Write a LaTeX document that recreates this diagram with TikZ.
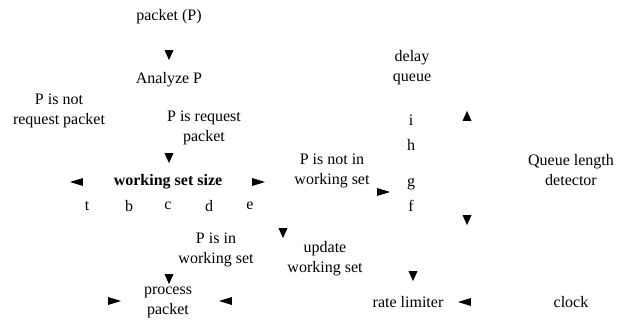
\documentclass[tikz,border=0pt]{standalone}
\usepackage{fontspec}
\setmainfont{Liberation Serif}
\usetikzlibrary{shapes.geometric}

\tikzset{
  lbl/.style={align=center, inner sep=1pt, font=\fontsize{16}{20}\selectfont},
  tip/.style={isosceles triangle, isosceles triangle stretches, fill=black,
    inner sep=0pt, minimum height=10pt, minimum width=9pt},
  tipdown/.style={tip, shape border rotate=270},
  tipup/.style={tip, shape border rotate=90},
  tipleft/.style={tip, shape border rotate=180, minimum height=13pt, minimum width=8pt},
  tipright/.style={tip, shape border rotate=0, minimum height=13pt, minimum width=8pt}
}

\begin{document}
\begin{tikzpicture}[x=1pt,y=-1pt]
\useasboundingbox (0,0) rectangle (617,323);
% left part: incoming packet
\node[lbl] (pkt) at (169,17) {packet (P)};
\node[tipdown] (t1) at (169,53) {};
\node[lbl] (analyze) at (169,80) {Analyze P};
\node[lbl] (notreq) at (59,111) {P is not\\request packet};
\node[lbl] (isreq) at (204,128) {P is request\\packet};
\node[tipdown] (t2) at (169,156) {};
% working set
\node[tipleft] (t3) at (80,182) {};
\node[lbl, font=\fontsize{16}{20}\selectfont\bfseries] (wss) at (168,182) {working set size};
\node[tipright] (t4) at (255,182) {};
\node[lbl] (st) at (87,206) {t};
\node[lbl] (sb) at (129,206) {b};
\node[lbl] (sc) at (168,206) {c};
\node[lbl] (sd) at (209,206) {d};
\node[lbl] (se) at (250,206) {e};
\node[lbl] (inws) at (216,250) {P is in\\working set};
\node[tipdown] (t5) at (169,277) {};
\node[lbl] (proc) at (168,302) {process\\packet};
\node[tipright] (t6) at (111,301) {};
\node[tipleft] (t7) at (229,301) {};
% not in working set
\node[lbl] (notws) at (332,171) {P is not in\\working set};
\node[tipright] (t8) at (380,192) {};
\node[tipdown] (t9) at (283,231) {};
\node[lbl] (upd) at (325,259) {update\\working set};
% delay queue
\node[lbl] (dq) at (412,68) {delay\\queue};
\node[lbl] (qi) at (411,120) {i};
\node[lbl] (qh) at (411,145) {h};
\node[lbl] (qg) at (411,184) {g};
\node[lbl] (qf) at (411,206) {f};
\node[tipdown] (t10) at (413,274) {};
\node[lbl] (rate) at (408,302) {rate limiter};
% right part
\node[tipup] (t11) at (467,118) {};
\node[lbl] (qld) at (571,170) {Queue length\\detector};
\node[tipdown] (t12) at (467,218) {};
\node[tipleft] (t13) at (468,302) {};
\node[lbl] (clk) at (571,302) {clock};
\end{tikzpicture}
\end{document}
